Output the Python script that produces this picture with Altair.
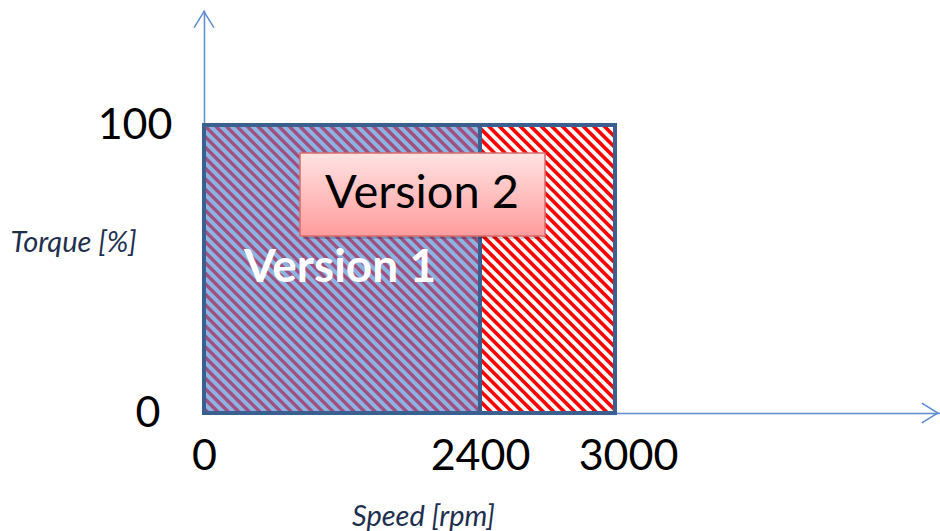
import altair as alt
import pandas as pd
import numpy as np

# ---- data -------------------------------------------------------------
speed_start = [0, 2400]
speed_end = [2400, 3000]
torque_low = [0, 0]
torque_high = [100, 100]
region_fill = ["#8DB3E2", "#FFFFFF"]
x_ticks = [0, 2400, 3000]
y_ticks = [0, 100]
label_text = ["Version 1", "Version 2"]
label_x = [1183, 1896]
label_y = [50.3, 76.0]
box_x = [835]
box_x2 = [2689]
box_y = [61.5]
box_y2 = [90.3]

# ---- scales (drawing is not proportional: piecewise linear x) --------
W, H = 736, 403
X_DOMAIN = [0, 2400, 3000, 4500]
X_RANGE = [0, 276, 411, 736]
Y_PX = 2.88
Y_MAX = H / Y_PX

xs = alt.Scale(domain=X_DOMAIN, range=X_RANGE, nice=False, zero=False)
ys = alt.Scale(domain=[0, Y_MAX], nice=False, zero=False)


def to_px(v):
    return float(np.interp(v, X_DOMAIN, X_RANGE))


def from_px(p):
    return float(np.interp(p, X_RANGE, X_DOMAIN))


def hatch(x0d, x1d, period=10.5):
    x0, x1 = to_px(x0d), to_px(x1d)
    ytop, ybot = H - 100 * Y_PX, H
    rows = []
    for c in np.arange(ytop - 420, ybot + 10, period):
        a = max(x0, ytop - c)
        b = min(x1, ybot - c)
        if b > a:
            rows.append(dict(x=from_px(a), x2=from_px(b),
                             y=(H - (a + c)) / Y_PX, y2=(H - (b + c)) / Y_PX))
    return pd.DataFrame(rows)


regions = pd.DataFrame(dict(x=speed_start, x2=speed_end, y=torque_low,
                            y2=torque_high, fill=region_fill))
labels = pd.DataFrame(dict(t=label_text, x=label_x, y=label_y))
box = pd.DataFrame(dict(x=box_x, x2=box_x2, y=box_y, y2=box_y2))

FONT = "Lato"
AX = "#5B8BD3"

x_enc = alt.X("x:Q", scale=xs,
              axis=alt.Axis(values=x_ticks, format="d", title="Speed [rpm]", labelFontSize=43,
                            labelFont=FONT, labelColor="#000000", labelPadding=22,
                            labelFlush=False,
                            labelOffset={"condition": {"test": "datum.value == 3000", "value": 13}, "value": 0},
                            ticks=False, tickSize=0, grid=False, domainColor=AX,
                            domainWidth=1.5, titleFont=FONT, titleFontSize=29,
                            titleFontStyle="italic", titleFontWeight="normal",
                            titleColor="#1F2F4F", titleX=219, titleY=112,
                            titleAlign="center", titleBaseline="alphabetic"))
y_enc = alt.Y("y:Q", scale=ys,
              axis=alt.Axis(values=y_ticks, format="d", title="Torque [%]", labelFontSize=43,
                            labelFont=FONT, labelColor="#000000", labelFlush=False,
                            labelPadding={"condition": {"test": "datum.value == 0", "value": 44}, "value": 32},
                            ticks=False, tickSize=0, grid=False, domainColor=AX,
                            domainWidth=1.5, titleFont=FONT, titleFontSize=29,
                            titleFontStyle="italic", titleFontWeight="normal",
                            titleColor="#1F2F4F", titleAngle=0, titleX=-194, titleY=232,
                            titleAlign="left", titleBaseline="middle"))

fills = alt.Chart(regions).mark_rect().encode(
    x=x_enc, x2="x2:Q", y=y_enc, y2="y2:Q",
    fill=alt.Fill("fill:N", scale=None))

h1 = alt.Chart(hatch(0, 2400)).mark_rule(color="#A0507E", strokeWidth=3.3).encode(
    x=alt.X("x:Q", scale=xs), x2="x2:Q", y=alt.Y("y:Q", scale=ys), y2="y2:Q")
h2 = alt.Chart(hatch(2400, 3000)).mark_rule(color="#FF0000", strokeWidth=3.7).encode(
    x=alt.X("x:Q", scale=xs), x2="x2:Q", y=alt.Y("y:Q", scale=ys), y2="y2:Q")

borders = alt.Chart(regions).mark_rect(fillOpacity=0, stroke="#3B5F8E", strokeWidth=4).encode(
    x=alt.X("x:Q", scale=xs), x2="x2:Q", y=alt.Y("y:Q", scale=ys), y2="y2:Q")

shadow = alt.Chart(box).mark_rect(fill="#000000", opacity=0.18, xOffset=3, yOffset=3).encode(
    x=alt.X("x:Q", scale=xs), x2="x2:Q", y=alt.Y("y:Q", scale=ys), y2="y2:Q")
grad = alt.LinearGradient(gradient="linear",
                          stops=[alt.GradientStop(offset=0, color="#FFE3E3"),
                                 alt.GradientStop(offset=1, color="#FF9C9C")],
                          x1=0, x2=0, y1=0, y2=1)
vbox = alt.Chart(box).mark_rect(fill=grad, stroke="#D86B6B", strokeWidth=1.5).encode(
    x=alt.X("x:Q", scale=xs), x2="x2:Q", y=alt.Y("y:Q", scale=ys), y2="y2:Q")

t1 = alt.Chart(labels.iloc[[0]]).mark_text(font=FONT, fontSize=46, fontWeight="bold",
                                            color="#FFFFFF", align="center", baseline="middle").encode(
    x=alt.X("x:Q", scale=xs), y=alt.Y("y:Q", scale=ys), text="t:N")
t2 = alt.Chart(labels.iloc[[1]]).mark_text(font=FONT, fontSize=47, color="#000000",
                                            align="center", baseline="middle").encode(
    x=alt.X("x:Q", scale=xs), y=alt.Y("y:Q", scale=ys), text="t:N")

arrows = pd.DataFrame(dict(x=[4490, 0], y=[0, Y_MAX - 0.6],
                           s=["M-1,-0.62L0,0L-1,0.62", "M-0.62,1L0,0L0.62,1"]))
ax_arrow = alt.Chart(arrows.iloc[[0]]).mark_point(shape=arrows.s[0], size=1024, filled=False,
                                                   stroke=AX, strokeWidth=1.5, opacity=1).encode(
    x=alt.X("x:Q", scale=xs), y=alt.Y("y:Q", scale=ys))
ay_arrow = alt.Chart(arrows.iloc[[1]]).mark_point(shape=arrows.s[1], size=1024, filled=False,
                                                   stroke=AX, strokeWidth=1.5, opacity=1).encode(
    x=alt.X("x:Q", scale=xs), y=alt.Y("y:Q", scale=ys))

chart = alt.layer(fills, h1, h2, borders, shadow, vbox, t1, t2, ax_arrow, ay_arrow).properties(
    width=W, height=H, autosize="none",
    padding={"left": 204, "top": 10, "right": 0, "bottom": 118},
    background="#FFFFFF",
).configure_view(stroke=None)

chart.save("out.html", embed_options={"renderer": "svg", "actions": False})
